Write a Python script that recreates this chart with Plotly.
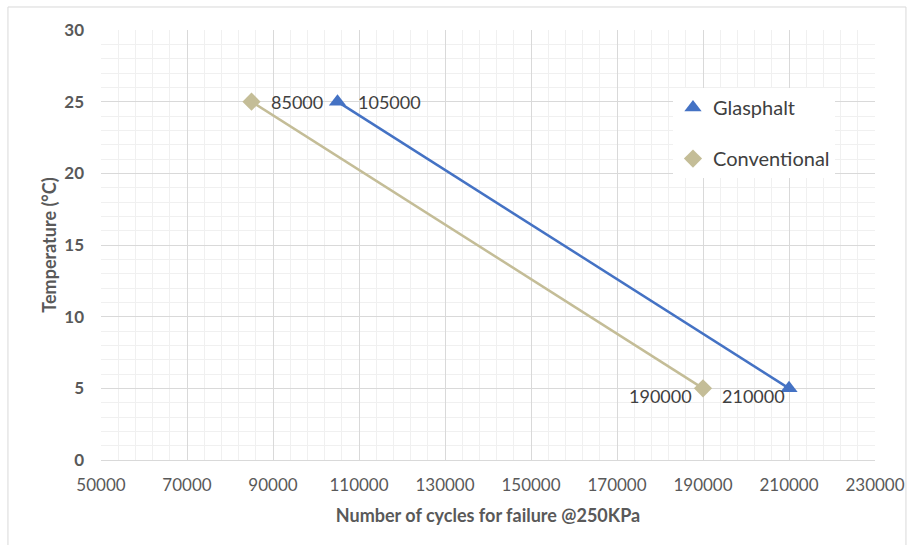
import plotly.graph_objects as go

# Fatigue life of the two mixes at each test temperature
temperature = [25, 5]
glasphalt_cycles = [105000, 210000]
conventional_cycles = [85000, 190000]

x_ticks = [50000, 70000, 90000, 110000, 130000, 150000, 170000, 190000, 210000, 230000]
y_ticks = [0, 5, 10, 15, 20, 25, 30]

BLUE = "#4472C4"
TAN = "#C4BD97"
FONT = "Lato, Carlito, 'Open Sans', sans-serif"

series = [
    ("Glasphalt", glasphalt_cycles, BLUE, "triangle-up", 15, "g"),
    ("Conventional", conventional_cycles, TAN, "diamond", 14, "c"),
]

fig = go.Figure()

for name, cycles, color, symbol, size, group in series:
    # connecting line (kept out of the legend)
    fig.add_trace(go.Scatter(
        x=cycles, y=temperature, mode="lines", showlegend=False,
        legendgroup=group, line=dict(color=color, width=2.5), hoverinfo="skip",
    ))
    # point markers, which also provide the legend symbol
    fig.add_trace(go.Scatter(
        x=cycles, y=temperature, name=name, mode="markers",
        legendgroup=group, marker=dict(symbol=symbol, size=size, color=color),
    ))

# Value labels: right of the 25 °C points, lower-left of the 5 °C points
label_shift = {
    (105000, 25): (18, 0), (85000, 25): (17, 0),
    (210000, 5): (-2, -8), (190000, 5): (-9, -8),
}
for _, cycles, *_rest in series:
    for xv, yv in zip(cycles, temperature):
        dx, dy = label_shift[(xv, yv)]
        fig.add_annotation(
            x=xv, y=yv, text=str(xv), showarrow=False,
            xanchor="left" if dx > 0 else "right",
            xshift=dx, yshift=dy,
            font=dict(family=FONT, size=18, color="#404040"),
        )

# Chart-area frame
fig.add_shape(type="rect", xref="paper", yref="paper",
              x0=-0.1202, x1=1.0400, y0=-0.21, y1=1.0535,
              line=dict(color="#D9D9D9", width=1), layer="below")

fig.update_layout(
    width=912, height=545,
    margin=dict(l=101, r=37, t=30, b=85),
    paper_bgcolor="white", plot_bgcolor="white",
    font=dict(family=FONT, color="#595959"),
    showlegend=True,
    legend=dict(
        x=0.739, y=0.865, xanchor="left", yanchor="top",
        bgcolor="white", borderwidth=0,
        font=dict(family=FONT, size=20, color="#404040"),
        tracegroupgap=22, traceorder="grouped",
        itemwidth=30,
    ),
    xaxis=dict(
        range=[50000, 230000], tickvals=x_ticks,
        ticktext=[str(v) for v in x_ticks],
        automargin=False,
        showgrid=True, gridcolor="#D9D9D9", gridwidth=1,
        minor=dict(tick0=50000, dtick=4000, showgrid=True,
                   gridcolor="#F0F0F0", gridwidth=1),
        showline=True, linecolor="#D9D9D9", zeroline=False,
        ticks="", tickfont=dict(family=FONT, size=17, color="#595959"),
        ticklabelstandoff=10,
        title=dict(text="<b>Number of cycles for failure @250KPa</b>",
                   font=dict(family=FONT, size=18, color="#595959"), standoff=14),
    ),
    yaxis=dict(
        range=[0, 30], tickvals=y_ticks,
        ticktext=[f"<b>{v}</b>" for v in y_ticks],
        automargin=False,
        showgrid=True, gridcolor="#D9D9D9", gridwidth=1,
        minor=dict(tick0=0, dtick=1, showgrid=True, gridcolor="#F0F0F0", gridwidth=1),
        showline=False, zeroline=False,
        ticks="", tickfont=dict(family=FONT, size=17, color="#595959"),
        ticklabelstandoff=16,
        title=dict(text="<b>Temperature (°C)</b>",
                   font=dict(family=FONT, size=18, color="#595959"), standoff=2),
    ),
)

fig.write_html("out.html")
